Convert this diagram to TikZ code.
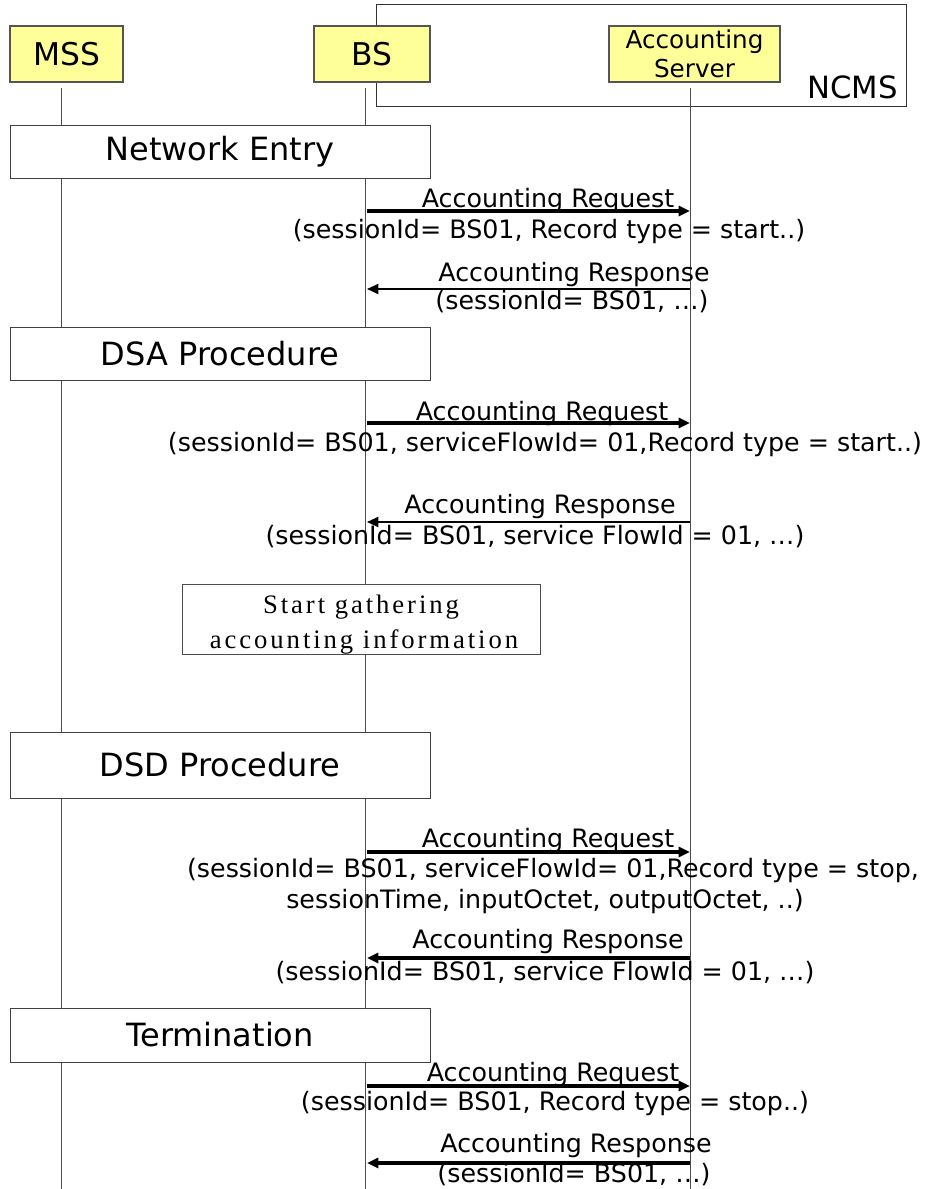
\documentclass[tikz,border=0pt]{standalone}
\usepackage{fontspec}
\setmainfont{DejaVu Sans}
\newfontfamily\notefont{Liberation Serif}[LetterSpace=11]
\usetikzlibrary{arrows.meta}
\definecolor{actorfill}{HTML}{FFFF99}
\definecolor{actorline}{HTML}{555555}

\tikzset{
  actor/.style={draw=actorline, fill=actorfill, inner sep=0pt, line width=0.9pt, minimum height=42pt},
  phase/.style={draw=black!75, fill=white, minimum width=315pt, inner sep=0pt, font=\fontsize{24}{28}\selectfont},
  msg/.style={inner sep=0pt, anchor=base, font=\fontsize{19}{22}\selectfont},
  life/.style={draw=black!70, line width=0.75pt},
  req/.style={-{Triangle[length=8.5pt,width=7.5pt]}, line width=2.5pt},
  resp/.style={-{Triangle[length=8.5pt,width=7.5pt]}, line width=1.5pt},
}

\begin{document}
\begin{tikzpicture}[x=0.75pt, y=-0.75pt]
\useasboundingbox (0,0) rectangle (938,1189);

% NCMS frame
\node (ncmsbox) at (641,55) [draw=black!80, line width=0.75pt, minimum width=397.5pt, minimum height=76.5pt] {};
\node (ncms) at (898,98) [inner sep=0pt, anchor=base east, font=\fontsize{23}{27}\selectfont] {NCMS};

% actors
\node (mss) at (66.5,54) [actor, minimum width=84.75pt, font=\fontsize{23.5}{27}\selectfont] {MSS};
\node (bs) at (372,54) [actor, minimum width=87pt, font=\fontsize{23.5}{27}\selectfont] {BS};
\node (acc) at (694.5,54) [actor, minimum width=128.25pt, align=center, font=\fontsize{18.5}{21.5}\selectfont] {Accounting\\Server};

% lifelines
\coordinate (mssTop) at (61,88);
\coordinate (mssBot) at (61,1189);
\coordinate (bsTop) at (365,88);
\coordinate (bsBot) at (365,1189);
\coordinate (accTop) at (690,88);
\coordinate (accBot) at (690,1189);
\draw [life] (mssTop) -- (mssBot);
\draw [life] (bsTop) -- (bsBot);
\draw [life] (accTop) -- (accBot);

% phases
\node (entry) at (220,151.5) [phase, minimum height=39.75pt] {Network Entry};
\node (dsa) at (220,353.5) [phase, minimum height=39.75pt] {DSA Procedure};
\node (gather) at (361,619) [draw=black!70, fill=white, minimum width=268.5pt, minimum height=52.5pt, inner sep=0pt] {};
\node (gather1) at (361,613) [inner sep=0pt, anchor=base, font=\notefont\fontsize{20}{22}\selectfont] {Start gathering};
\node (gather2) at (364,648) [inner sep=0pt, anchor=base, font=\notefont\fontsize{20}{22}\selectfont] {accounting information};
\node (dsd) at (220,765) [phase, minimum height=49.5pt] {DSD Procedure};
\node (term) at (220,1035) [phase, minimum height=40.5pt] {Termination};

% messages
\coordinate (bs1) at (367,211);
\coordinate (acc1) at (690,211);
\draw [req] (bs1) -- (acc1);
\node (req1a) at (548,207) [msg] {Accounting Request};
\node (req1b) at (549,238) [msg] {(sessionId= BS01, Record type = start..)};

\coordinate (acc2) at (690,289);
\coordinate (bs2) at (367,289);
\draw [resp] (acc2) -- (bs2);
\node (resp1a) at (574,281) [msg] {Accounting Response};
\node (resp1b) at (572,309) [msg] {(sessionId= BS01, …)};

\coordinate (bs3) at (367,423);
\coordinate (acc3) at (690,423);
\draw [req] (bs3) -- (acc3);
\node (req2a) at (542,420) [msg] {Accounting Request};
\node (req2b) at (545,451) [msg] {(sessionId= BS01, serviceFlowId= 01,Record type = start..)};

\coordinate (acc4) at (690,522);
\coordinate (bs4) at (367,522);
\draw [resp] (acc4) -- (bs4);
\node (resp2a) at (540,513) [msg] {Accounting Response};
\node (resp2b) at (535,544) [msg] {(sessionId= BS01, service FlowId = 01, …)};

\coordinate (bs5) at (367,852);
\coordinate (acc5) at (690,852);
\draw [req] (bs5) -- (acc5);
\node (req3a) at (548,847) [msg] {Accounting Request};
\node (req3b) at (553,877) [msg] {(sessionId= BS01, serviceFlowId= 01,Record type = stop,};
\node (req3c) at (545,908) [msg] {sessionTime, inputOctet, outputOctet, ..)};

\coordinate (acc6) at (690,958);
\coordinate (bs6) at (367,958);
\draw [req] (acc6) -- (bs6);
\node (resp3a) at (548,948) [msg] {Accounting Response};
\node (resp3b) at (545,980) [msg] {(sessionId= BS01, service FlowId = 01, …)};

\coordinate (bs7) at (367,1086);
\coordinate (acc7) at (690,1086);
\draw [req] (bs7) -- (acc7);
\node (req4a) at (553,1081) [msg] {Accounting Request};
\node (req4b) at (555,1110) [msg] {(sessionId= BS01, Record type = stop..)};

\coordinate (acc8) at (690,1163);
\coordinate (bs8) at (367,1163);
\draw [req] (acc8) -- (bs8);
\node (resp4a) at (576,1152) [msg] {Accounting Response};
\node (resp4b) at (574,1182) [msg] {(sessionId= BS01, …)};

\end{tikzpicture}
\end{document}
